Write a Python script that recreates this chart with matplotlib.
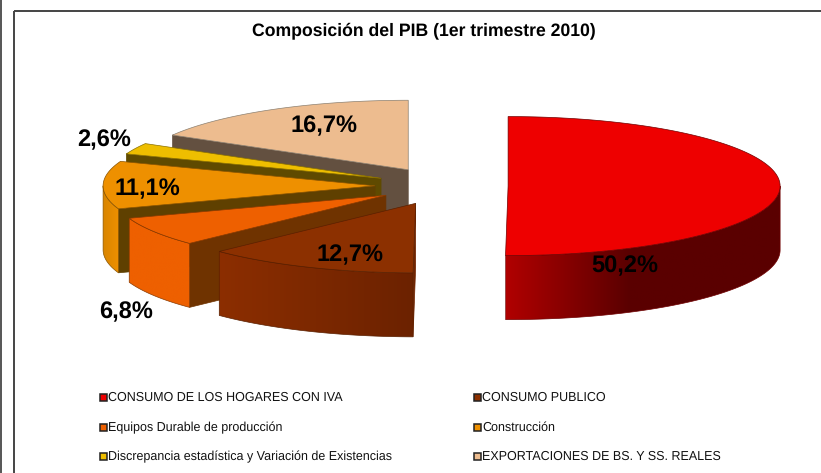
import numpy as np
import matplotlib
matplotlib.use("Agg")
import matplotlib.pyplot as plt
from matplotlib.patches import Polygon, Rectangle

plt.rcParams['font.family'] = ['Liberation Sans', 'DejaVu Sans']
plt.rcParams['text.hinting'] = 'no_hinting'
plt.rcParams['text.hinting_factor'] = 8

# ---- data ----
categories = ["CONSUMO DE LOS HOGARES CON IVA", "CONSUMO PUBLICO",
              "Equipos Durable de producción", "Construcción",
              "Discrepancia estadística y Variación de Existencias",
              "EXPORTACIONES DE BS. Y SS. REALES"]
values = [50.2, 12.7, 6.8, 11.1, 2.6, 16.7]
value_labels = ["50,2%", "12,7%", "6,8%", "11,1%", "2,6%", "16,7%"]
explode = [0.232, 0.272, 0.255, 0.257, 0.26, 0.27]
title = "Composición del PIB (1er trimestre 2010)"

# ---- style ----
top_colors = ["#EE0000", "#8C3000", "#EE6000", "#EE9000", "#EEBE00", "#EDBC8F"]
side_colors = ["#8C0000", "#702400", "#6F3300", "#5F4000", "#5F4A00", "#635040"]
rim_left = ["#B00000", "#8C2E00", "#EE6000", "#D98500", "#EEBE00", "#EDBC8F"]
rim_right = ["#5A0000", "#6C2200", "#EE6000", "#EE9000", "#EEBE00", "#EDBC8F"]
edge_colors = ["#700000", "#5A2000", "#8A3A00", "#8A5400", "#8A7000", "#8C8070"]
base_x, base_y, rx, ry, depth = 445.0, 186.0, 272.0, 69.5, 64.0
label_xy = [(625, 266), (350, 255.5), (126, 312.5), (147, 189), (104.5, 140.5), (324, 126)]
legend_rows = [397.5, 427.5, 456.5]
legend_cols = [103, 477]

fig = plt.figure(figsize=(8.21, 4.73), dpi=100)
ax = fig.add_axes([0, 0, 1, 1])
ax.set_xlim(0, 821)
ax.set_ylim(473, 0)
ax.axis("off")


def pt(c, th):
    return np.column_stack([c[0] + rx * np.sin(th), c[1] - ry * np.cos(th)])


total = sum(values)
edges = np.radians(np.concatenate([[0], np.cumsum(values)]) * 360 / total)

# Back-to-front drawing order
for i in [5, 4, 3, 2, 1, 0]:
    t0, t1 = edges[i], edges[i + 1]
    mid = (t0 + t1) / 2
    c = (base_x + explode[i] * rx * np.sin(mid), base_y - explode[i] * ry * np.cos(mid))
    arc = pt(c, np.linspace(t0, t1, 160))
    apex = np.array([c])

    # radial side wall on the lower edge of the left-hand slices
    if i > 0:
        p0 = arc[0]
        wall = np.array([p0, c, (c[0], c[1] + depth), (p0[0], p0[1] + depth)])
        ax.add_patch(Polygon(wall, closed=True, fc=side_colors[i], ec=side_colors[i],
                             lw=0.5, zorder=10 + (5 - i) * 3))

    # outer rim with a horizontal gradient
    lo, hi = max(t0, np.pi / 2), min(t1, 3 * np.pi / 2)
    if hi > lo:
        rim = pt(c, np.linspace(lo, hi, 160))
        rim_poly = np.vstack([rim, (rim + [0, depth])[::-1]])
        xmin, xmax = rim_poly[:, 0].min(), rim_poly[:, 0].max()
        ymin, ymax = rim_poly[:, 1].min(), rim_poly[:, 1].max()
        cl = np.array(matplotlib.colors.to_rgb(rim_left[i]))
        cr = np.array(matplotlib.colors.to_rgb(rim_right[i]))
        stop = 0.45 if i == 0 else 1.0
        u = np.clip(np.linspace(0, 1, 256) / stop, 0, 1)[None, :, None]
        img = cl[None, None, :] * (1 - u) + cr[None, None, :] * u
        patch = Polygon(rim_poly, closed=True, fc="none", ec=edge_colors[i], lw=0.5,
                        zorder=11 + (5 - i) * 3)
        ax.add_patch(patch)
        im = ax.imshow(img, extent=(xmin, xmax, ymax, ymin), aspect="auto",
                       zorder=10.5 + (5 - i) * 3)
        im.set_clip_path(patch)

    # top surface
    ax.add_patch(Polygon(np.vstack([apex, arc]), closed=True, fc=top_colors[i],
                         ec=edge_colors[i], lw=0.5, zorder=12 + (5 - i) * 3))

ax.set_xlim(0, 821)
ax.set_ylim(473, 0)

# value labels
for (x, y), s in zip(label_xy, value_labels):
    ax.text(x, y, s, fontsize=17.0, fontweight="bold", color="black", ha="center",
            va="center", zorder=50)

ax.text(423.5, 31, title, fontsize=12.7, fontweight="bold", ha="center", va="center", zorder=50)

# legend
for k, (name, col) in enumerate(zip(categories, top_colors)):
    lx = legend_cols[k % 2]
    ly = legend_rows[k // 2]
    ax.add_patch(Rectangle((lx - 3.5, ly - 4), 7, 7, fc=col, ec="#222222", lw=1.1, zorder=50))
    ax.text(lx + 5, ly, name, fontsize=9.0, ha="left", va="center", color="#111111", zorder=50)

# frames
ax.plot([14, 14], [473, 11], color="#444444", lw=1.4, zorder=60, solid_capstyle="butt")
ax.plot([14, 821], [11, 11], color="#444444", lw=1.4, zorder=60, solid_capstyle="butt")
ax.plot([0.5, 0.5], [0, 473], color="#555555", lw=1.4, zorder=60, solid_capstyle="butt")

fig.savefig("out.png", dpi=100)
